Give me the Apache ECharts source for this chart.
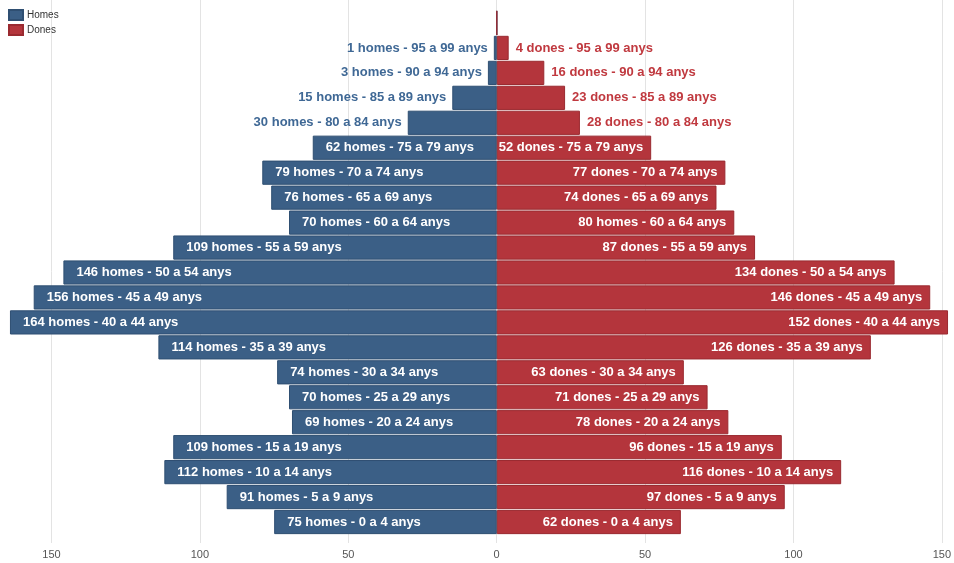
<!DOCTYPE html>
<html>
<head>
<meta charset="utf-8">
<script src="https://cdn.jsdelivr.net/npm/echarts@6/dist/echarts.min.js"></script>
<style>html,body{margin:0;padding:0;background:#fff}#c{width:954px;height:563px}</style>
</head>
<body>
<div id="c"></div>
<script>
// Age groups, bottom to top
const categories = ['0 a 4','5 a 9','10 a 14','15 a 19','20 a 24','25 a 29','30 a 34','35 a 39','40 a 44','45 a 49','50 a 54','55 a 59','60 a 64','65 a 69','70 a 74','75 a 79','80 a 84','85 a 89','90 a 94','95 a 99','100 o més'];
const homes = [75, 91, 112, 109, 69, 70, 74, 114, 164, 156, 146, 109, 70, 76, 79, 62, 30, 15, 3, 1, 0];
const dones = [62, 97, 116, 96, 78, 71, 63, 126, 152, 146, 134, 87, 80, 74, 77, 52, 28, 23, 16, 4, 0];
// unit word shown in each label (the source labels one women's bar as "homes")
const homesUnit = categories.map(() => 'homes');
const donesUnit = ['dones','dones','dones','dones','dones','dones','dones','dones','dones','dones','dones','dones','homes','dones','dones','dones','dones','dones','dones','dones','dones'];
const xTickLabels = { '-150': '150', '-100': '100', '-50': '50', '0': '0', '50': '50', '100': '100', '150': '150' };

const BLUE = '#3b5f86', BLUE_B = '#2f4f72', BLUE_T = '#3f6895';
const RED = '#b4353c', RED_B = '#9a2a30', RED_T = '#c0393f';
const FONT = '"Liberation Sans", Arial, Helvetica, sans-serif';
const X_MIN = -165, X_MAX = 153;

function labelFor(v, unit, cat, side) {
  const inside = v >= 50;
  const text = v === 0 ? '' : (v + ' ' + unit + ' - ' + cat + ' anys');
  if (side === 'left') {
    return inside
      ? { show: true, position: 'insideLeft', distance: 13, color: '#fff', formatter: text }
      : { show: true, position: 'left', distance: 6, color: BLUE_T, formatter: text };
  }
  return inside
    ? { show: true, position: 'insideRight', distance: 8, color: '#fff', formatter: text }
    : { show: true, position: 'right', distance: 7, color: RED_T, formatter: text };
}

const homesData = homes.map((v, i) => ({ value: -v, label: labelFor(v, homesUnit[i], categories[i], 'left') }));
const donesData = dones.map((v, i) => ({ value: v, label: labelFor(v, donesUnit[i], categories[i], 'right') }));

const chart = echarts.init(document.getElementById('c'), null, { renderer: 'canvas' });
chart.setOption({
  animation: false,
  textStyle: { fontFamily: FONT },
  legend: {
    orient: 'vertical', left: 3, top: 4, itemWidth: 14, itemHeight: 10, itemGap: 3,
    icon: 'rect',
    textStyle: { fontSize: 10, color: '#333', fontFamily: FONT, padding: [0, 0, 0, -1] },
    data: ['Homes', 'Dones']
  },
  grid: [
    { left: 7, right: 3, top: 0, bottom: 20 },
    { left: 7, right: 3, top: 10.5, bottom: 28.5 }
  ],
  xAxis: [
    {
      gridIndex: 0, type: 'value', min: X_MIN, max: X_MAX, minInterval: 50, maxInterval: 50,
      axisLine: { show: false }, axisTick: { show: false },
      splitLine: { show: true, showMinLine: false, showMaxLine: false, lineStyle: { color: '#e3e3e3', width: 1 } },
      axisLabel: {
        margin: 6, fontSize: 11, color: '#555', fontFamily: FONT, showMinLabel: false, showMaxLabel: false,
        formatter: v => (xTickLabels[String(v)] !== undefined ? xTickLabels[String(v)] : '')
      }
    },
    {
      gridIndex: 1, type: 'value', min: X_MIN, max: X_MAX, minInterval: 50, maxInterval: 50,
      show: false, splitLine: { show: false }
    }
  ],
  yAxis: [
    { gridIndex: 0, type: 'category', data: categories, show: false },
    { gridIndex: 1, type: 'category', data: categories, show: false }
  ],
  series: [
    {
      name: 'Homes', type: 'bar', xAxisIndex: 1, yAxisIndex: 1, stack: 'p',
      barCategoryGap: '3%',
      itemStyle: { color: BLUE, borderColor: BLUE_B, borderWidth: 1 },
      label: { fontSize: 13, fontWeight: 'bold', fontFamily: FONT },
      data: homesData
    },
    {
      name: 'Dones', type: 'bar', xAxisIndex: 1, yAxisIndex: 1, stack: 'p',
      barCategoryGap: '3%',
      itemStyle: { color: RED, borderColor: RED_B, borderWidth: 1 },
      label: { fontSize: 13, fontWeight: 'bold', fontFamily: FONT },
      data: donesData
    }
  ]
});
</script>
</body>
</html>
